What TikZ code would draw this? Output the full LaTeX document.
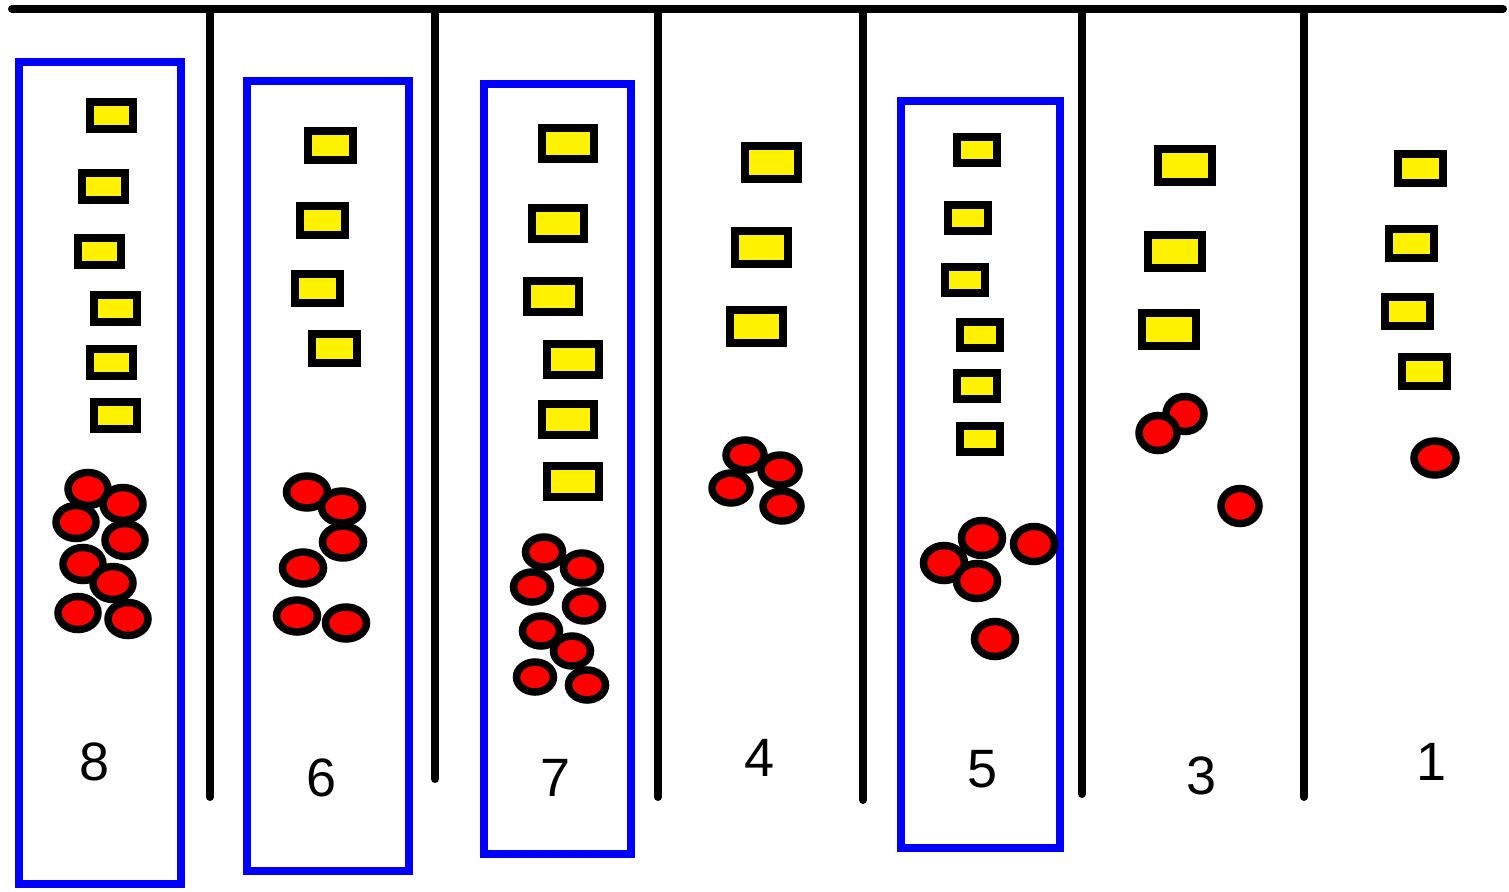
\documentclass[tikz,border=0pt]{standalone}
\usepackage{fontspec}
\setmainfont{Liberation Sans}
\usepackage{tikz}
\usetikzlibrary{shapes.geometric}
\tikzset{
  divider/.style={line width=8pt, line cap=round},
  pack/.style={draw=blue, line width=8pt},
  chip/.style={draw, fill=yellow, line width=8pt, inner sep=0pt},
  bead/.style={ellipse, draw, fill=red, line width=7.5pt, inner sep=0pt},
  tally/.style={font=\fontsize{54}{60}\selectfont, inner sep=0pt}
}

\begin{document}
\begin{tikzpicture}[x=1pt,y=-1pt]
                \useasboundingbox (0,0) rectangle (1509,891);
                \draw[divider] (12,9) -- (1503,9);
                \foreach \x/\y in {210/797,435/779,658/797,863/800,1082/794,1304/797}
                    \draw[divider] (\x,9) -- (\x,\y);
                \draw[pack] (19,62) rectangle (181,884);
                \draw[pack] (247,81) rectangle (409,871);
                \draw[pack] (484,84) rectangle (631,854);
                \draw[pack] (901,101) rectangle (1060,848);
                % column 8
                \foreach \x/\y [count=\i] in {111/115,103/186,99/251,115/308,111/362,115/415}
                    \node[chip, minimum width=43pt, minimum height=27pt] (y8-\i) at (\x,\y) {};
                \foreach \x/\y [count=\i] in {88/489,123/504,76/522,125/540,83/564,113/583,78/613,128/619}
                    \node[bead, minimum width=40pt, minimum height=33pt] (r8-\i) at (\x,\y) {};
                \node[tally] (n8) at (95,762) {8};
                % column 6
                \foreach \x/\y [count=\i] in {330/145,322/220,317/288,334/348}
                    \node[chip, minimum width=45pt, minimum height=29pt] (y6-\i) at (\x,\y) {};
                \foreach \x/\y [count=\i] in {307/492,342/507,343/542,303/568,297/616,346/623}
                    \node[bead, minimum width=41pt, minimum height=32pt] (r6-\i) at (\x,\y) {};
                \node[tally] (n6) at (322,778) {6};
                % column 7
                \foreach \x/\y [count=\i] in {568/143,558/223,553/296,573/359,568/419,573/481}
                    \node[chip, minimum width=52pt, minimum height=31pt] (y7-\i) at (\x,\y) {};
                \foreach \x/\y [count=\i] in {544/552,582/568,532/587,584/606,541/631,572/651,535/677,587/685}
                    \node[bead, minimum width=37pt, minimum height=30pt] (r7-\i) at (\x,\y) {};
                \node[tally] (n7) at (556,778) {7};
                % column 4
                \foreach \x/\y [count=\i] in {771/162,761/247,756/326}
                    \node[chip, minimum width=53pt, minimum height=33pt] (y4-\i) at (\x,\y) {};
                \foreach \x/\y [count=\i] in {745/455,780/470,731/488,782/506}
                    \node[bead, minimum width=38pt, minimum height=30pt] (r4-\i) at (\x,\y) {};
                \node[tally] (n4) at (760,758) {4};
                % column 5
                \foreach \x/\y [count=\i] in {977/150,968/218,965/280,980/335,977/386,980/439}
                    \node[chip, minimum width=40pt, minimum height=26pt] (y5-\i) at (\x,\y) {};
                \foreach \x/\y [count=\i] in {982/538,1034/544,944/563,977/581,995/639}
                    \node[bead, minimum width=41pt, minimum height=35pt] (r5-\i) at (\x,\y) {};
                \node[tally] (n5) at (983,769) {5};
                % column 3
                \foreach \x/\y [count=\i] in {1185/165,1175/251,1169/329}
                    \node[chip, minimum width=54pt, minimum height=33pt] (y3-\i) at (\x,\y) {};
                \foreach \x/\y [count=\i] in {1185/414,1158/433,1240/506}
                    \node[bead, minimum width=38pt, minimum height=35pt] (r3-\i) at (\x,\y) {};
                \node[tally] (n3) at (1201,776) {3};
                % column 1
                \foreach \x/\y [count=\i] in {1420/168,1411/243,1407/311,1424/371}
                    \node[chip, minimum width=45pt, minimum height=29pt] (y1-\i) at (\x,\y) {};
                \node[bead, minimum width=42pt, minimum height=34pt] (r1-1) at (1435,458) {};
                \node[tally] (n1) at (1431,762) {1};
            \end{tikzpicture}
\end{document}
